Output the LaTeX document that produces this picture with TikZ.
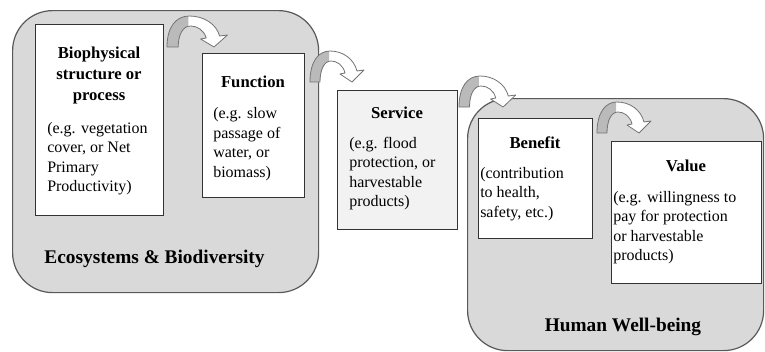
\documentclass[tikz,border=0pt]{standalone}
\usepackage{fontspec}
\setmainfont{Liberation Serif}
\begin{document}
\def\arrowpath{(0,0) .. controls (0,-20) and (8,-31) .. (20,-31) .. controls (33,-31) and (44,-23) .. (47,-11) -- (54,-12) -- (42,0) -- (30,-8) -- (35,-9) .. controls (33,-17) and (27,-21) .. (21,-21) .. controls (14,-21) and (10,-12) .. (10,0) -- cycle}
\tikzset{
  region/.style={draw=black!65, fill=black!15, line width=0.9pt, rounded corners=30pt, inner sep=0pt, anchor=north west},
  card/.style={draw=black!80, fill=white, line width=0.75pt, inner sep=0pt, anchor=north west},
  cardtitle/.style={font=\fontsize{12.5}{15.75}\selectfont\bfseries, align=center, anchor=base, inner sep=0pt},
  cardbody/.style={font=\fontsize{12}{14.6}\selectfont, align=left, anchor=base west, inner sep=0pt},
  arealabel/.style={font=\fontsize{14.5}{17}\selectfont\bfseries, anchor=base, inner sep=0pt},
  curvearrow/.pic={
    \fill[white] \arrowpath;
    \begin{scope}
      \clip (-3,3) rectangle (19,-35);
      \fill[black!27] \arrowpath;
    \end{scope}
    \draw[black!55, line width=0.6pt, line join=round] \arrowpath;
  }
}
\begin{tikzpicture}[x=0.75pt,y=-0.75pt]
\useasboundingbox (0,0) rectangle (765,351);
% regions
\node[region, minimum width=229.5pt, minimum height=211.5pt] (eco) at (12,10) {};
\node[region, minimum width=222pt, minimum height=189pt] (hwb) at (467,98) {};
% cards
\node[card, minimum width=96pt, minimum height=143.25pt] (bio) at (35,24) {};
\node[card, minimum width=76.5pt, minimum height=108pt] (fun) at (202,53) {};
\node[card, fill=black!5, minimum width=90pt, minimum height=104.25pt] (ser) at (337,90) {};
\node[card, minimum width=85.5pt, minimum height=90pt] (ben) at (478,118) {};
\node[card, minimum width=112.5pt, minimum height=106.5pt] (val) at (611,141) {};
% texts (anchor = baseline of the last line)
\node[cardtitle] (biot) at (99,100) {Biophysical\\structure or\\process};
\node[cardbody] (biob) at (47,191.5) {(e.g. vegetation\\cover, or Net\\Primary\\Productivity)};
\node[cardtitle] (funt) at (253,87) {Function};
\node[cardbody] (funb) at (213,177) {(e.g. slow\\passage of\\water, or\\biomass)};
\node[cardtitle] (sert) at (397,118) {Service};
\node[cardbody] (serb) at (349,206.5) {(e.g. flood\\protection, or\\harvestable\\products)};
\node[cardtitle] (bent) at (535,148) {Benefit};
\node[cardbody] (benb) at (480,217) {(contribution\\to health,\\safety, etc.)};
\node[cardtitle] (valt) at (686,171) {Value};
\node[cardbody] (valb) at (613,260.5) {(e.g. willingness to\\pay for protection\\or harvestable\\products)};
\node[arealabel] (ecol) at (154.5,263) {Ecosystems \& Biodiversity};
\node[arealabel] (hwbl) at (623,331) {Human Well-being};
% curved arrows
\pic[xscale=1.12] at (167,47) {curvearrow};
\pic at (310,82) {curvearrow};
\pic[xscale=1.05] at (459,107) {curvearrow};
\pic at (597,133) {curvearrow};
\end{tikzpicture}
\end{document}
